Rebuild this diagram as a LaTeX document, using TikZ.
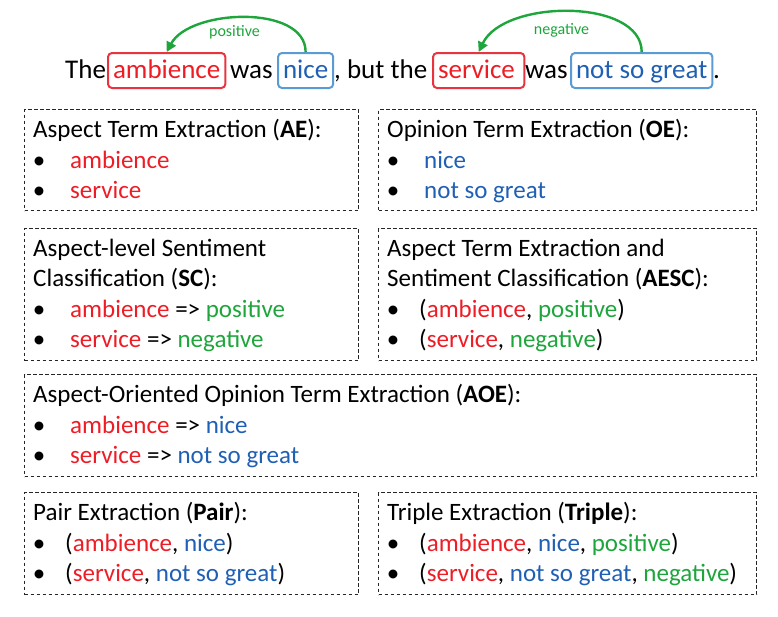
\documentclass[tikz,border=0pt]{standalone}
\usepackage{fontspec}
\setmainfont{Carlito}
\usetikzlibrary{arrows.meta}

\definecolor{aspred}{HTML}{EE1C25}
\definecolor{aspbox}{HTML}{E8343F}
\definecolor{opblue}{HTML}{1F5FB4}
\definecolor{opbox}{HTML}{5B9BD5}
\definecolor{sentgreen}{HTML}{1EA53C}

\newcommand{\asp}[1]{\textcolor{aspred}{#1}}
\newcommand{\opn}[1]{\textcolor{opblue}{#1}}
\newcommand{\snt}[1]{\textcolor{sentgreen}{#1}}

\tikzset{
  word/.style={anchor=base west, inner sep=0pt, font=\fontsize{27}{32}\selectfont},
  wordbox/.style={word, rounded corners=4pt, line width=2pt, inner xsep=5pt,
    inner ysep=5pt, text height=20pt, text depth=5pt},
  senti/.style={anchor=base, inner sep=0pt, text=sentgreen, font=\fontsize{16}{19}\selectfont},
  relarrow/.style={draw=sentgreen, line width=2.4pt, -{Triangle[length=10pt,width=10pt]}},
  taskbox/.style={draw=black!85, dash pattern=on 3.5pt off 2.5pt, line width=1.1pt,
    anchor=north west, inner sep=0pt},
  ln/.style={anchor=base west, inner sep=0pt, font=\fontsize{25}{30}\selectfont},
  bul/.style={anchor=base, inner sep=0pt, font=\fontsize{25}{30}\selectfont},
}

\begin{document}
\begin{tikzpicture}[x=1pt, y=-1pt]
\useasboundingbox (0,0) rectangle (778,616);

% example sentence
\node[word] (the) at (65,78) {The};
\node[wordbox, draw=aspbox, text=aspred] (amb) at (107,78) {ambience};
\node[word] (was1) at (230,78) {was};
\node[wordbox, draw=opbox, text=opblue] (nice) at (277,78) {nice};
\node[word] (but) at (334,78) {, but the};
\node[wordbox, draw=aspbox, text=aspred] (serv) at (432,78) {service\,};
\node[word] (was2) at (525,78) {was};
\node[wordbox, draw=opbox, text=opblue] (nsg) at (570,78) {not so great};
\node[word] (dot) at (713,78) {.};

% aspect--opinion relations with their sentiment
\draw[relarrow] (nice.north) .. controls +(0,-48) and +(23,-43) .. (amb.north);
\node[senti] (pos) at (234.5,36) {positive};
\draw[relarrow] (nsg.north) .. controls +(0,-54) and +(25,-53) .. (serv.north);
\node[senti] (neg) at (561.5,34) {negative};

% AE
\node[taskbox, minimum width=334pt, minimum height=101pt] (ae) at (24,109) {};
\node[ln] (ae-t) at (33,137.5) {Aspect Term Extraction (\textbf{AE}):};
\node[bul] (ae-b1) at (39,168) {•};
\node[ln] (ae-i1) at (70,168) {\asp{ambience}};
\node[bul] (ae-b2) at (39,198) {•};
\node[ln] (ae-i2) at (70,198) {\asp{service}};

% OE
\node[taskbox, minimum width=378pt, minimum height=101pt] (oe) at (378,109) {};
\node[ln] (oe-t) at (387,137.5) {Opinion Term Extraction (\textbf{OE}):};
\node[bul] (oe-b1) at (393,168) {•};
\node[ln] (oe-i1) at (424,168) {\opn{nice}};
\node[bul] (oe-b2) at (393,198) {•};
\node[ln] (oe-i2) at (424,198) {\opn{not so great}};

% SC
\node[taskbox, minimum width=334pt, minimum height=132pt] (sc) at (24,228) {};
\node[ln] (sc-t1) at (33,256.5) {Aspect-level Sentiment};
\node[ln] (sc-t2) at (33,286.5) {Classification (\textbf{SC}):};
\node[bul] (sc-b1) at (39,317) {•};
\node[ln] (sc-i1) at (70,317) {\asp{ambience} => \snt{positive}};
\node[bul] (sc-b2) at (39,347) {•};
\node[ln] (sc-i2) at (70,347) {\asp{service} => \snt{negative}};

% AESC
\node[taskbox, minimum width=378pt, minimum height=132pt] (aesc) at (378,228) {};
\node[ln] (aesc-t1) at (387,256.5) {Aspect Term Extraction and};
\node[ln] (aesc-t2) at (387,286.5) {Sentiment Classification (\textbf{AESC}):};
\node[bul] (aesc-b1) at (393,317) {•};
\node[ln] (aesc-i1) at (419,317) {(\asp{ambience}, \snt{positive})};
\node[bul] (aesc-b2) at (393,347) {•};
\node[ln] (aesc-i2) at (419,347) {(\asp{service}, \snt{negative})};

% AOE
\node[taskbox, minimum width=732pt, minimum height=102pt] (aoe) at (24,374) {};
\node[ln] (aoe-t) at (33,402.5) {Aspect-Oriented Opinion Term Extraction (\textbf{AOE}):};
\node[bul] (aoe-b1) at (39,433) {•};
\node[ln] (aoe-i1) at (70,433) {\asp{ambience} => \opn{nice}};
\node[bul] (aoe-b2) at (39,463) {•};
\node[ln] (aoe-i2) at (70,463) {\asp{service} => \opn{not so great}};

% Pair
\node[taskbox, minimum width=334pt, minimum height=102pt] (pair) at (24,492) {};
\node[ln] (pair-t) at (33,520.5) {Pair Extraction (\textbf{Pair}):};
\node[bul] (pair-b1) at (39,551) {•};
\node[ln] (pair-i1) at (65,551) {(\asp{ambience}, \opn{nice})};
\node[bul] (pair-b2) at (39,581) {•};
\node[ln] (pair-i2) at (65,581) {(\asp{service}, \opn{not so great})};

% Triple
\node[taskbox, minimum width=378pt, minimum height=102pt] (triple) at (378,492) {};
\node[ln] (triple-t) at (387,520.5) {Triple Extraction (\textbf{Triple}):};
\node[bul] (triple-b1) at (393,551) {•};
\node[ln] (triple-i1) at (419,551) {(\asp{ambience}, \opn{nice}, \snt{positive})};
\node[bul] (triple-b2) at (393,581) {•};
\node[ln] (triple-i2) at (419,581) {(\asp{service}, \opn{not so great}, \snt{negative})};
\end{tikzpicture}
\end{document}
